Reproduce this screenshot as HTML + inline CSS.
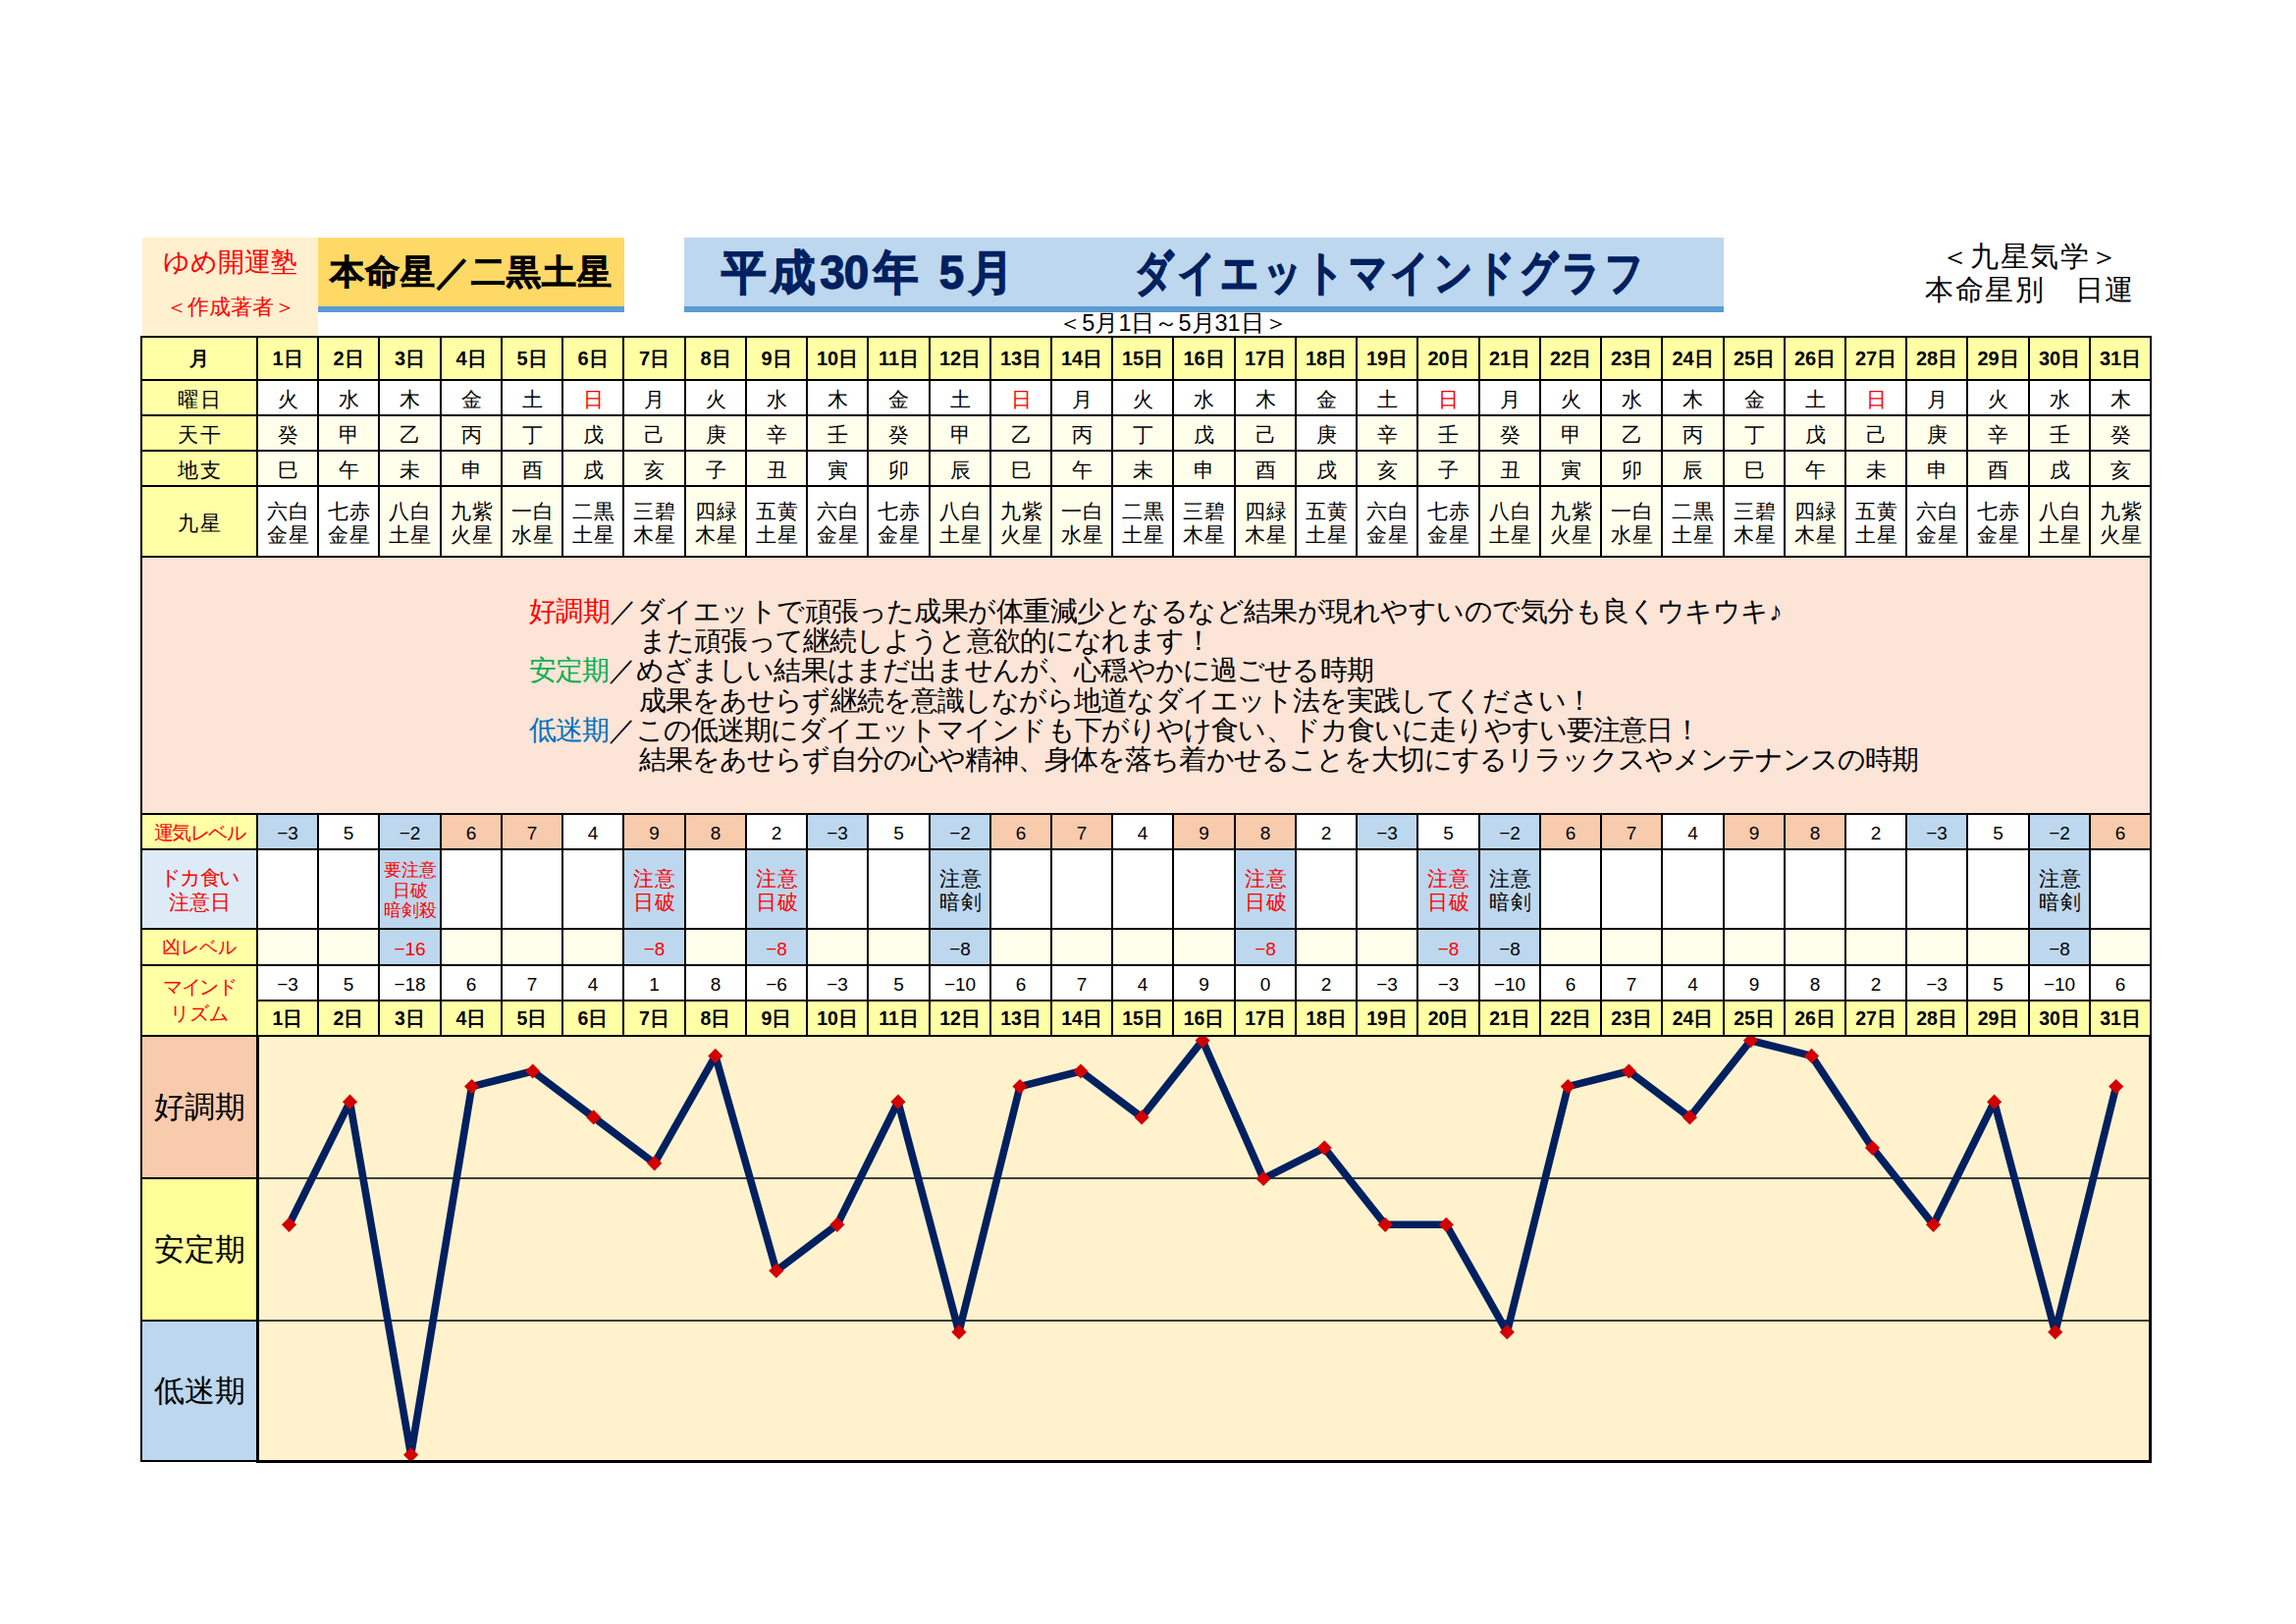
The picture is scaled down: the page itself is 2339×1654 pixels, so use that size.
<!DOCTYPE html>
<html lang="ja"><head><meta charset="utf-8"><title>ダイエットマインドグラフ</title>
<style>
html,body{margin:0;padding:0;background:#fff;}
body{width:2339px;height:1654px;overflow:hidden;font-family:"Liberation Sans", sans-serif;color:#000;}
#page{position:relative;width:2339px;height:1654px;background:#fff;overflow:hidden;}
.c{position:absolute;box-sizing:border-box;border:2px solid #000;display:flex;align-items:center;justify-content:center;text-align:center;white-space:nowrap;overflow:hidden;font-size:20px;line-height:25px;}
.b{font-weight:bold;}
.r{color:#FF0000;}
.k{color:#000;}
.t{position:absolute;white-space:nowrap;}
.j{position:absolute;white-space:nowrap;text-align:justify;text-align-last:justify;transform-origin:0 0;}
.n{padding-top:2px;}
.box{position:absolute;}
</style></head><body><div id="page">

<div class="box" style="left:145px;top:242px;width:179px;height:101px;background:#FFF0D0;"></div>
<div class="t r" style="left:145px;top:249px;width:179px;text-align:center;font-size:27px;line-height:36px;">ゆめ開運塾</div>
<div class="t r" style="left:145px;top:297px;width:179px;text-align:center;font-size:22px;line-height:32px;">＜作成著者＞</div>
<div class="box" style="left:324px;top:242px;width:312px;height:70px;background:#FFD966;"></div>
<div class="box" style="left:324px;top:312px;width:312px;height:6px;background:#5B9BD5;"></div>
<div class="t b" style="left:324px;top:252px;width:312px;text-align:center;font-size:35px;line-height:50px;letter-spacing:1px;-webkit-text-stroke:0.7px #000;">本命星／二黒土星</div>
<div class="box" style="left:697px;top:242px;width:1059px;height:70px;background:#BDD7EE;"></div>
<div class="box" style="left:697px;top:312px;width:1059px;height:6px;background:#5B9BD5;"></div>
<div class="j b" style="left:735px;top:246px;width:312px;font-size:48px;line-height:64px;letter-spacing:-1px;color:#002060;-webkit-text-stroke:1.3px #002060;transform:scaleX(0.95);">平成30年 5月</div>
<div class="j b" style="left:1156px;top:246px;width:640px;font-size:48px;line-height:64px;letter-spacing:-3px;color:#002060;-webkit-text-stroke:1.3px #002060;transform:scaleX(0.806);">ダイエットマインドグラフ</div>
<div class="t" style="left:1943px;top:243.7px;width:250px;text-align:center;font-size:29px;line-height:34.5px;letter-spacing:1.5px;">＜九星気学＞<br>本命星別　日運</div>
<div class="t" style="left:1075px;top:317px;width:240px;text-align:center;font-size:23.5px;line-height:25px;">＜5月1日～5月31日＞</div>
<div class="c b" style="left:143px;top:342px;width:120px;height:46px;background:#FFFFA6;">月</div>
<div class="c n" style="left:143px;top:386px;width:120px;height:38px;background:#FFFFA6;font-size:21px;letter-spacing:2px;padding-left:2px;">曜日</div>
<div class="c n" style="left:143px;top:422px;width:120px;height:38px;background:#FFFFA6;font-size:21px;letter-spacing:2px;padding-left:2px;">天干</div>
<div class="c n" style="left:143px;top:458px;width:120px;height:38px;background:#FFFFA6;font-size:21px;letter-spacing:2px;padding-left:2px;">地支</div>
<div class="c n" style="left:143px;top:494px;width:120px;height:74px;background:#FFFFA6;font-size:21px;letter-spacing:2px;padding-left:2px;">九星</div>
<div class="c b" style="left:261px;top:342px;width:64px;height:46px;background:#FFFFA6;">1日</div>
<div class="c n" style="left:261px;top:386px;width:64px;height:38px;background:#fff;font-size:21px;">火</div>
<div class="c n" style="left:261px;top:422px;width:64px;height:38px;background:#FFFFEC;font-size:21px;">癸</div>
<div class="c n" style="left:261px;top:458px;width:64px;height:38px;background:#FFFFEC;font-size:21px;">巳</div>
<div class="c " style="left:261px;top:494px;width:64px;height:74px;background:#fff;font-size:21px;line-height:24px;padding-top:4px;letter-spacing:1px;padding-left:1px;">六白<br>金星</div>
<div class="c b" style="left:323px;top:342px;width:64px;height:46px;background:#FFFFA6;">2日</div>
<div class="c n" style="left:323px;top:386px;width:64px;height:38px;background:#fff;font-size:21px;">水</div>
<div class="c n" style="left:323px;top:422px;width:64px;height:38px;background:#FFFFEC;font-size:21px;">甲</div>
<div class="c n" style="left:323px;top:458px;width:64px;height:38px;background:#FFFFEC;font-size:21px;">午</div>
<div class="c " style="left:323px;top:494px;width:64px;height:74px;background:#fff;font-size:21px;line-height:24px;padding-top:4px;letter-spacing:1px;padding-left:1px;">七赤<br>金星</div>
<div class="c b" style="left:385px;top:342px;width:65px;height:46px;background:#FFFFA6;">3日</div>
<div class="c n" style="left:385px;top:386px;width:65px;height:38px;background:#fff;font-size:21px;">木</div>
<div class="c n" style="left:385px;top:422px;width:65px;height:38px;background:#FFFFEC;font-size:21px;">乙</div>
<div class="c n" style="left:385px;top:458px;width:65px;height:38px;background:#FFFFEC;font-size:21px;">未</div>
<div class="c " style="left:385px;top:494px;width:65px;height:74px;background:#FFFFEC;font-size:21px;line-height:24px;padding-top:4px;letter-spacing:1px;padding-left:1px;">八白<br>土星</div>
<div class="c b" style="left:448px;top:342px;width:64px;height:46px;background:#FFFFA6;">4日</div>
<div class="c n" style="left:448px;top:386px;width:64px;height:38px;background:#fff;font-size:21px;">金</div>
<div class="c n" style="left:448px;top:422px;width:64px;height:38px;background:#FFFFEC;font-size:21px;">丙</div>
<div class="c n" style="left:448px;top:458px;width:64px;height:38px;background:#FFFFEC;font-size:21px;">申</div>
<div class="c " style="left:448px;top:494px;width:64px;height:74px;background:#FFFFEC;font-size:21px;line-height:24px;padding-top:4px;letter-spacing:1px;padding-left:1px;">九紫<br>火星</div>
<div class="c b" style="left:510px;top:342px;width:64px;height:46px;background:#FFFFA6;">5日</div>
<div class="c n" style="left:510px;top:386px;width:64px;height:38px;background:#fff;font-size:21px;">土</div>
<div class="c n" style="left:510px;top:422px;width:64px;height:38px;background:#FFFFEC;font-size:21px;">丁</div>
<div class="c n" style="left:510px;top:458px;width:64px;height:38px;background:#FFFFEC;font-size:21px;">酉</div>
<div class="c " style="left:510px;top:494px;width:64px;height:74px;background:#FFFFEC;font-size:21px;line-height:24px;padding-top:4px;letter-spacing:1px;padding-left:1px;">一白<br>水星</div>
<div class="c b" style="left:572px;top:342px;width:64px;height:46px;background:#FFFFA6;">6日</div>
<div class="c n r" style="left:572px;top:386px;width:64px;height:38px;background:#fff;font-size:21px;">日</div>
<div class="c n" style="left:572px;top:422px;width:64px;height:38px;background:#FFFFEC;font-size:21px;">戊</div>
<div class="c n" style="left:572px;top:458px;width:64px;height:38px;background:#FFFFEC;font-size:21px;">戌</div>
<div class="c " style="left:572px;top:494px;width:64px;height:74px;background:#fff;font-size:21px;line-height:24px;padding-top:4px;letter-spacing:1px;padding-left:1px;">二黒<br>土星</div>
<div class="c b" style="left:634px;top:342px;width:65px;height:46px;background:#FFFFA6;">7日</div>
<div class="c n" style="left:634px;top:386px;width:65px;height:38px;background:#fff;font-size:21px;">月</div>
<div class="c n" style="left:634px;top:422px;width:65px;height:38px;background:#FFFFEC;font-size:21px;">己</div>
<div class="c n" style="left:634px;top:458px;width:65px;height:38px;background:#FFFFEC;font-size:21px;">亥</div>
<div class="c " style="left:634px;top:494px;width:65px;height:74px;background:#fff;font-size:21px;line-height:24px;padding-top:4px;letter-spacing:1px;padding-left:1px;">三碧<br>木星</div>
<div class="c b" style="left:697px;top:342px;width:64px;height:46px;background:#FFFFA6;">8日</div>
<div class="c n" style="left:697px;top:386px;width:64px;height:38px;background:#fff;font-size:21px;">火</div>
<div class="c n" style="left:697px;top:422px;width:64px;height:38px;background:#FFFFEC;font-size:21px;">庚</div>
<div class="c n" style="left:697px;top:458px;width:64px;height:38px;background:#FFFFEC;font-size:21px;">子</div>
<div class="c " style="left:697px;top:494px;width:64px;height:74px;background:#FFFFEC;font-size:21px;line-height:24px;padding-top:4px;letter-spacing:1px;padding-left:1px;">四緑<br>木星</div>
<div class="c b" style="left:759px;top:342px;width:64px;height:46px;background:#FFFFA6;">9日</div>
<div class="c n" style="left:759px;top:386px;width:64px;height:38px;background:#fff;font-size:21px;">水</div>
<div class="c n" style="left:759px;top:422px;width:64px;height:38px;background:#FFFFEC;font-size:21px;">辛</div>
<div class="c n" style="left:759px;top:458px;width:64px;height:38px;background:#FFFFEC;font-size:21px;">丑</div>
<div class="c " style="left:759px;top:494px;width:64px;height:74px;background:#fff;font-size:21px;line-height:24px;padding-top:4px;letter-spacing:1px;padding-left:1px;">五黄<br>土星</div>
<div class="c b" style="left:821px;top:342px;width:64px;height:46px;background:#FFFFA6;">10日</div>
<div class="c n" style="left:821px;top:386px;width:64px;height:38px;background:#fff;font-size:21px;">木</div>
<div class="c n" style="left:821px;top:422px;width:64px;height:38px;background:#FFFFEC;font-size:21px;">壬</div>
<div class="c n" style="left:821px;top:458px;width:64px;height:38px;background:#fff;font-size:21px;">寅</div>
<div class="c " style="left:821px;top:494px;width:64px;height:74px;background:#fff;font-size:21px;line-height:24px;padding-top:4px;letter-spacing:1px;padding-left:1px;">六白<br>金星</div>
<div class="c b" style="left:883px;top:342px;width:65px;height:46px;background:#FFFFA6;">11日</div>
<div class="c n" style="left:883px;top:386px;width:65px;height:38px;background:#fff;font-size:21px;">金</div>
<div class="c n" style="left:883px;top:422px;width:65px;height:38px;background:#FFFFEC;font-size:21px;">癸</div>
<div class="c n" style="left:883px;top:458px;width:65px;height:38px;background:#FFFFEC;font-size:21px;">卯</div>
<div class="c " style="left:883px;top:494px;width:65px;height:74px;background:#fff;font-size:21px;line-height:24px;padding-top:4px;letter-spacing:1px;padding-left:1px;">七赤<br>金星</div>
<div class="c b" style="left:946px;top:342px;width:64px;height:46px;background:#FFFFA6;">12日</div>
<div class="c n" style="left:946px;top:386px;width:64px;height:38px;background:#fff;font-size:21px;">土</div>
<div class="c n" style="left:946px;top:422px;width:64px;height:38px;background:#FFFFEC;font-size:21px;">甲</div>
<div class="c n" style="left:946px;top:458px;width:64px;height:38px;background:#FFFFEC;font-size:21px;">辰</div>
<div class="c " style="left:946px;top:494px;width:64px;height:74px;background:#FFFFEC;font-size:21px;line-height:24px;padding-top:4px;letter-spacing:1px;padding-left:1px;">八白<br>土星</div>
<div class="c b" style="left:1008px;top:342px;width:64px;height:46px;background:#FFFFA6;">13日</div>
<div class="c n r" style="left:1008px;top:386px;width:64px;height:38px;background:#fff;font-size:21px;">日</div>
<div class="c n" style="left:1008px;top:422px;width:64px;height:38px;background:#FFFFEC;font-size:21px;">乙</div>
<div class="c n" style="left:1008px;top:458px;width:64px;height:38px;background:#FFFFEC;font-size:21px;">巳</div>
<div class="c " style="left:1008px;top:494px;width:64px;height:74px;background:#FFFFEC;font-size:21px;line-height:24px;padding-top:4px;letter-spacing:1px;padding-left:1px;">九紫<br>火星</div>
<div class="c b" style="left:1070px;top:342px;width:64px;height:46px;background:#FFFFA6;">14日</div>
<div class="c n" style="left:1070px;top:386px;width:64px;height:38px;background:#fff;font-size:21px;">月</div>
<div class="c n" style="left:1070px;top:422px;width:64px;height:38px;background:#FFFFEC;font-size:21px;">丙</div>
<div class="c n" style="left:1070px;top:458px;width:64px;height:38px;background:#FFFFEC;font-size:21px;">午</div>
<div class="c " style="left:1070px;top:494px;width:64px;height:74px;background:#FFFFEC;font-size:21px;line-height:24px;padding-top:4px;letter-spacing:1px;padding-left:1px;">一白<br>水星</div>
<div class="c b" style="left:1132px;top:342px;width:64px;height:46px;background:#FFFFA6;">15日</div>
<div class="c n" style="left:1132px;top:386px;width:64px;height:38px;background:#fff;font-size:21px;">火</div>
<div class="c n" style="left:1132px;top:422px;width:64px;height:38px;background:#FFFFEC;font-size:21px;">丁</div>
<div class="c n" style="left:1132px;top:458px;width:64px;height:38px;background:#FFFFEC;font-size:21px;">未</div>
<div class="c " style="left:1132px;top:494px;width:64px;height:74px;background:#fff;font-size:21px;line-height:24px;padding-top:4px;letter-spacing:1px;padding-left:1px;">二黒<br>土星</div>
<div class="c b" style="left:1194px;top:342px;width:65px;height:46px;background:#FFFFA6;">16日</div>
<div class="c n" style="left:1194px;top:386px;width:65px;height:38px;background:#fff;font-size:21px;">水</div>
<div class="c n" style="left:1194px;top:422px;width:65px;height:38px;background:#FFFFEC;font-size:21px;">戊</div>
<div class="c n" style="left:1194px;top:458px;width:65px;height:38px;background:#FFFFEC;font-size:21px;">申</div>
<div class="c " style="left:1194px;top:494px;width:65px;height:74px;background:#fff;font-size:21px;line-height:24px;padding-top:4px;letter-spacing:1px;padding-left:1px;">三碧<br>木星</div>
<div class="c b" style="left:1257px;top:342px;width:64px;height:46px;background:#FFFFA6;">17日</div>
<div class="c n" style="left:1257px;top:386px;width:64px;height:38px;background:#fff;font-size:21px;">木</div>
<div class="c n" style="left:1257px;top:422px;width:64px;height:38px;background:#FFFFEC;font-size:21px;">己</div>
<div class="c n" style="left:1257px;top:458px;width:64px;height:38px;background:#FFFFEC;font-size:21px;">酉</div>
<div class="c " style="left:1257px;top:494px;width:64px;height:74px;background:#FFFFEC;font-size:21px;line-height:24px;padding-top:4px;letter-spacing:1px;padding-left:1px;">四緑<br>木星</div>
<div class="c b" style="left:1319px;top:342px;width:64px;height:46px;background:#FFFFA6;">18日</div>
<div class="c n" style="left:1319px;top:386px;width:64px;height:38px;background:#fff;font-size:21px;">金</div>
<div class="c n" style="left:1319px;top:422px;width:64px;height:38px;background:#fff;font-size:21px;">庚</div>
<div class="c n" style="left:1319px;top:458px;width:64px;height:38px;background:#FFFFEC;font-size:21px;">戌</div>
<div class="c " style="left:1319px;top:494px;width:64px;height:74px;background:#fff;font-size:21px;line-height:24px;padding-top:4px;letter-spacing:1px;padding-left:1px;">五黄<br>土星</div>
<div class="c b" style="left:1381px;top:342px;width:64px;height:46px;background:#FFFFA6;">19日</div>
<div class="c n" style="left:1381px;top:386px;width:64px;height:38px;background:#fff;font-size:21px;">土</div>
<div class="c n" style="left:1381px;top:422px;width:64px;height:38px;background:#FFFFEC;font-size:21px;">辛</div>
<div class="c n" style="left:1381px;top:458px;width:64px;height:38px;background:#FFFFEC;font-size:21px;">亥</div>
<div class="c " style="left:1381px;top:494px;width:64px;height:74px;background:#fff;font-size:21px;line-height:24px;padding-top:4px;letter-spacing:1px;padding-left:1px;">六白<br>金星</div>
<div class="c b" style="left:1443px;top:342px;width:65px;height:46px;background:#FFFFA6;">20日</div>
<div class="c n r" style="left:1443px;top:386px;width:65px;height:38px;background:#fff;font-size:21px;">日</div>
<div class="c n" style="left:1443px;top:422px;width:65px;height:38px;background:#FFFFEC;font-size:21px;">壬</div>
<div class="c n" style="left:1443px;top:458px;width:65px;height:38px;background:#FFFFEC;font-size:21px;">子</div>
<div class="c " style="left:1443px;top:494px;width:65px;height:74px;background:#fff;font-size:21px;line-height:24px;padding-top:4px;letter-spacing:1px;padding-left:1px;">七赤<br>金星</div>
<div class="c b" style="left:1506px;top:342px;width:64px;height:46px;background:#FFFFA6;">21日</div>
<div class="c n" style="left:1506px;top:386px;width:64px;height:38px;background:#fff;font-size:21px;">月</div>
<div class="c n" style="left:1506px;top:422px;width:64px;height:38px;background:#FFFFEC;font-size:21px;">癸</div>
<div class="c n" style="left:1506px;top:458px;width:64px;height:38px;background:#FFFFEC;font-size:21px;">丑</div>
<div class="c " style="left:1506px;top:494px;width:64px;height:74px;background:#FFFFEC;font-size:21px;line-height:24px;padding-top:4px;letter-spacing:1px;padding-left:1px;">八白<br>土星</div>
<div class="c b" style="left:1568px;top:342px;width:64px;height:46px;background:#FFFFA6;">22日</div>
<div class="c n" style="left:1568px;top:386px;width:64px;height:38px;background:#fff;font-size:21px;">火</div>
<div class="c n" style="left:1568px;top:422px;width:64px;height:38px;background:#FFFFEC;font-size:21px;">甲</div>
<div class="c n" style="left:1568px;top:458px;width:64px;height:38px;background:#FFFFEC;font-size:21px;">寅</div>
<div class="c " style="left:1568px;top:494px;width:64px;height:74px;background:#FFFFEC;font-size:21px;line-height:24px;padding-top:4px;letter-spacing:1px;padding-left:1px;">九紫<br>火星</div>
<div class="c b" style="left:1630px;top:342px;width:64px;height:46px;background:#FFFFA6;">23日</div>
<div class="c n" style="left:1630px;top:386px;width:64px;height:38px;background:#fff;font-size:21px;">水</div>
<div class="c n" style="left:1630px;top:422px;width:64px;height:38px;background:#FFFFEC;font-size:21px;">乙</div>
<div class="c n" style="left:1630px;top:458px;width:64px;height:38px;background:#FFFFEC;font-size:21px;">卯</div>
<div class="c " style="left:1630px;top:494px;width:64px;height:74px;background:#FFFFEC;font-size:21px;line-height:24px;padding-top:4px;letter-spacing:1px;padding-left:1px;">一白<br>水星</div>
<div class="c b" style="left:1692px;top:342px;width:65px;height:46px;background:#FFFFA6;">24日</div>
<div class="c n" style="left:1692px;top:386px;width:65px;height:38px;background:#fff;font-size:21px;">木</div>
<div class="c n" style="left:1692px;top:422px;width:65px;height:38px;background:#FFFFEC;font-size:21px;">丙</div>
<div class="c n" style="left:1692px;top:458px;width:65px;height:38px;background:#FFFFEC;font-size:21px;">辰</div>
<div class="c " style="left:1692px;top:494px;width:65px;height:74px;background:#fff;font-size:21px;line-height:24px;padding-top:4px;letter-spacing:1px;padding-left:1px;">二黒<br>土星</div>
<div class="c b" style="left:1755px;top:342px;width:64px;height:46px;background:#FFFFA6;">25日</div>
<div class="c n" style="left:1755px;top:386px;width:64px;height:38px;background:#fff;font-size:21px;">金</div>
<div class="c n" style="left:1755px;top:422px;width:64px;height:38px;background:#FFFFEC;font-size:21px;">丁</div>
<div class="c n" style="left:1755px;top:458px;width:64px;height:38px;background:#FFFFEC;font-size:21px;">巳</div>
<div class="c " style="left:1755px;top:494px;width:64px;height:74px;background:#fff;font-size:21px;line-height:24px;padding-top:4px;letter-spacing:1px;padding-left:1px;">三碧<br>木星</div>
<div class="c b" style="left:1817px;top:342px;width:64px;height:46px;background:#FFFFA6;">26日</div>
<div class="c n" style="left:1817px;top:386px;width:64px;height:38px;background:#fff;font-size:21px;">土</div>
<div class="c n" style="left:1817px;top:422px;width:64px;height:38px;background:#FFFFEC;font-size:21px;">戊</div>
<div class="c n" style="left:1817px;top:458px;width:64px;height:38px;background:#FFFFEC;font-size:21px;">午</div>
<div class="c " style="left:1817px;top:494px;width:64px;height:74px;background:#FFFFEC;font-size:21px;line-height:24px;padding-top:4px;letter-spacing:1px;padding-left:1px;">四緑<br>木星</div>
<div class="c b" style="left:1879px;top:342px;width:64px;height:46px;background:#FFFFA6;">27日</div>
<div class="c n r" style="left:1879px;top:386px;width:64px;height:38px;background:#fff;font-size:21px;">日</div>
<div class="c n" style="left:1879px;top:422px;width:64px;height:38px;background:#FFFFEC;font-size:21px;">己</div>
<div class="c n" style="left:1879px;top:458px;width:64px;height:38px;background:#FFFFEC;font-size:21px;">未</div>
<div class="c " style="left:1879px;top:494px;width:64px;height:74px;background:#fff;font-size:21px;line-height:24px;padding-top:4px;letter-spacing:1px;padding-left:1px;">五黄<br>土星</div>
<div class="c b" style="left:1941px;top:342px;width:64px;height:46px;background:#FFFFA6;">28日</div>
<div class="c n" style="left:1941px;top:386px;width:64px;height:38px;background:#fff;font-size:21px;">月</div>
<div class="c n" style="left:1941px;top:422px;width:64px;height:38px;background:#FFFFEC;font-size:21px;">庚</div>
<div class="c n" style="left:1941px;top:458px;width:64px;height:38px;background:#FFFFEC;font-size:21px;">申</div>
<div class="c " style="left:1941px;top:494px;width:64px;height:74px;background:#fff;font-size:21px;line-height:24px;padding-top:4px;letter-spacing:1px;padding-left:1px;">六白<br>金星</div>
<div class="c b" style="left:2003px;top:342px;width:65px;height:46px;background:#FFFFA6;">29日</div>
<div class="c n" style="left:2003px;top:386px;width:65px;height:38px;background:#fff;font-size:21px;">火</div>
<div class="c n" style="left:2003px;top:422px;width:65px;height:38px;background:#FFFFEC;font-size:21px;">辛</div>
<div class="c n" style="left:2003px;top:458px;width:65px;height:38px;background:#FFFFEC;font-size:21px;">酉</div>
<div class="c " style="left:2003px;top:494px;width:65px;height:74px;background:#fff;font-size:21px;line-height:24px;padding-top:4px;letter-spacing:1px;padding-left:1px;">七赤<br>金星</div>
<div class="c b" style="left:2066px;top:342px;width:64px;height:46px;background:#FFFFA6;">30日</div>
<div class="c n" style="left:2066px;top:386px;width:64px;height:38px;background:#fff;font-size:21px;">水</div>
<div class="c n" style="left:2066px;top:422px;width:64px;height:38px;background:#FFFFEC;font-size:21px;">壬</div>
<div class="c n" style="left:2066px;top:458px;width:64px;height:38px;background:#FFFFEC;font-size:21px;">戌</div>
<div class="c " style="left:2066px;top:494px;width:64px;height:74px;background:#FFFFEC;font-size:21px;line-height:24px;padding-top:4px;letter-spacing:1px;padding-left:1px;">八白<br>土星</div>
<div class="c b" style="left:2128px;top:342px;width:64px;height:46px;background:#FFFFA6;">31日</div>
<div class="c n" style="left:2128px;top:386px;width:64px;height:38px;background:#fff;font-size:21px;">木</div>
<div class="c n" style="left:2128px;top:422px;width:64px;height:38px;background:#FFFFEC;font-size:21px;">癸</div>
<div class="c n" style="left:2128px;top:458px;width:64px;height:38px;background:#FFFFEC;font-size:21px;">亥</div>
<div class="c " style="left:2128px;top:494px;width:64px;height:74px;background:#FFFFEC;font-size:21px;line-height:24px;padding-top:4px;letter-spacing:1px;padding-left:1px;">九紫<br>火星</div>
<div class="c " style="left:143px;top:566px;width:2049px;height:264px;background:#FCE4D6;"></div>
<div class="j" style="left:539px;top:606.6px;width:1275.1px;font-size:27.7px;line-height:31px;letter-spacing:-1.5px;"><span style="color:#FF0000">好調期</span>／ダイエットで頑張った成果が体重減少となるなど結果が現れやすいので気分も良くウキウキ♪</div>
<div class="j" style="left:651px;top:637.0px;width:582.1px;font-size:27.7px;line-height:31px;letter-spacing:-1.5px;">また頑張って継続しようと意欲的になれます！</div>
<div class="j" style="left:539px;top:667.3px;width:859.3px;font-size:27.7px;line-height:31px;letter-spacing:-1.5px;"><span style="color:#00B050">安定期</span>／めざましい結果はまだ出ませんが、心穏やかに過ごせる時期</div>
<div class="j" style="left:651px;top:697.7px;width:970.2px;font-size:27.7px;line-height:31px;letter-spacing:-1.5px;">成果をあせらず継続を意識しながら地道なダイエット法を実践してください！</div>
<div class="j" style="left:539px;top:728.0px;width:1192.0px;font-size:27.7px;line-height:31px;letter-spacing:-1.5px;"><span style="color:#0070C0">低迷期</span>／この低迷期にダイエットマインドも下がりやけ食い、ドカ食いに走りやすい要注意日！</div>
<div class="j" style="left:651px;top:758.4px;width:1302.8px;font-size:27.7px;line-height:31px;letter-spacing:-1.5px;">結果をあせらず自分の心や精神、身体を落ち着かせることを大切にするリラックスやメンテナンスの時期</div>
<div class="c r n" style="left:143px;top:828px;width:120px;height:38px;background:#FFFFA6;font-size:19.5px;letter-spacing:-1.6px;">運気レベル</div>
<div class="c r" style="left:143px;top:864px;width:120px;height:83px;background:#DDEBF7;font-size:20.5px;line-height:25px;"><span><span style="letter-spacing:-1.5px">ドカ食い</span><br>注意日</span></div>
<div class="c r" style="left:143px;top:945px;width:120px;height:39px;background:#FFFFA6;font-size:19px;">凶レベル</div>
<div class="c r" style="left:143px;top:982px;width:120px;height:74px;background:#FFFFA6;font-size:20px;line-height:27px;"><span><span style="letter-spacing:-1.5px">マインド</span><br>リズム</span></div>
<div class="c n" style="left:261px;top:828px;width:64px;height:38px;background:#BDD7EE;font-size:19px;padding-top:3px;">−3</div>
<div class="c " style="left:261px;top:864px;width:64px;height:83px;background:#fff;"></div>
<div class="c " style="left:261px;top:945px;width:64px;height:39px;background:#FFFFEC;"></div>
<div class="c n" style="left:261px;top:982px;width:64px;height:38px;background:#fff;font-size:19px;">−3</div>
<div class="c b" style="left:261px;top:1018px;width:64px;height:38px;background:#FFFFA6;font-size:19.5px;">1日</div>
<div class="c n" style="left:323px;top:828px;width:64px;height:38px;background:#fff;font-size:19px;padding-top:3px;">5</div>
<div class="c " style="left:323px;top:864px;width:64px;height:83px;background:#fff;"></div>
<div class="c " style="left:323px;top:945px;width:64px;height:39px;background:#FFFFEC;"></div>
<div class="c n" style="left:323px;top:982px;width:64px;height:38px;background:#fff;font-size:19px;">5</div>
<div class="c b" style="left:323px;top:1018px;width:64px;height:38px;background:#FFFFA6;font-size:19.5px;">2日</div>
<div class="c n" style="left:385px;top:828px;width:65px;height:38px;background:#BDD7EE;font-size:19px;padding-top:3px;">−2</div>
<div class="c r" style="left:385px;top:864px;width:65px;height:83px;background:#BDD7EE;font-size:17.5px;line-height:20.5px;padding-top:3px;">要注意<br>日破<br>暗剣殺</div>
<div class="c r" style="left:385px;top:945px;width:65px;height:39px;background:#BDD7EE;font-size:19px;padding-top:3px;">−16</div>
<div class="c n" style="left:385px;top:982px;width:65px;height:38px;background:#fff;font-size:19px;">−18</div>
<div class="c b" style="left:385px;top:1018px;width:65px;height:38px;background:#FFFFA6;font-size:19.5px;">3日</div>
<div class="c n" style="left:448px;top:828px;width:64px;height:38px;background:#F8CBAD;font-size:19px;padding-top:3px;">6</div>
<div class="c " style="left:448px;top:864px;width:64px;height:83px;background:#fff;"></div>
<div class="c " style="left:448px;top:945px;width:64px;height:39px;background:#FFFFEC;"></div>
<div class="c n" style="left:448px;top:982px;width:64px;height:38px;background:#fff;font-size:19px;">6</div>
<div class="c b" style="left:448px;top:1018px;width:64px;height:38px;background:#FFFFA6;font-size:19.5px;">4日</div>
<div class="c n" style="left:510px;top:828px;width:64px;height:38px;background:#F8CBAD;font-size:19px;padding-top:3px;">7</div>
<div class="c " style="left:510px;top:864px;width:64px;height:83px;background:#fff;"></div>
<div class="c " style="left:510px;top:945px;width:64px;height:39px;background:#FFFFEC;"></div>
<div class="c n" style="left:510px;top:982px;width:64px;height:38px;background:#fff;font-size:19px;">7</div>
<div class="c b" style="left:510px;top:1018px;width:64px;height:38px;background:#FFFFA6;font-size:19.5px;">5日</div>
<div class="c n" style="left:572px;top:828px;width:64px;height:38px;background:#fff;font-size:19px;padding-top:3px;">4</div>
<div class="c " style="left:572px;top:864px;width:64px;height:83px;background:#fff;"></div>
<div class="c " style="left:572px;top:945px;width:64px;height:39px;background:#FFFFEC;"></div>
<div class="c n" style="left:572px;top:982px;width:64px;height:38px;background:#fff;font-size:19px;">4</div>
<div class="c b" style="left:572px;top:1018px;width:64px;height:38px;background:#FFFFA6;font-size:19.5px;">6日</div>
<div class="c n" style="left:634px;top:828px;width:65px;height:38px;background:#F8CBAD;font-size:19px;padding-top:3px;">9</div>
<div class="c r" style="left:634px;top:864px;width:65px;height:83px;background:#BDD7EE;font-size:21px;line-height:24px;padding-top:3px;letter-spacing:1px;padding-left:1px;">注意<br>日破</div>
<div class="c r" style="left:634px;top:945px;width:65px;height:39px;background:#BDD7EE;font-size:19px;padding-top:3px;">−8</div>
<div class="c n" style="left:634px;top:982px;width:65px;height:38px;background:#fff;font-size:19px;">1</div>
<div class="c b" style="left:634px;top:1018px;width:65px;height:38px;background:#FFFFA6;font-size:19.5px;">7日</div>
<div class="c n" style="left:697px;top:828px;width:64px;height:38px;background:#F8CBAD;font-size:19px;padding-top:3px;">8</div>
<div class="c " style="left:697px;top:864px;width:64px;height:83px;background:#fff;"></div>
<div class="c " style="left:697px;top:945px;width:64px;height:39px;background:#FFFFEC;"></div>
<div class="c n" style="left:697px;top:982px;width:64px;height:38px;background:#fff;font-size:19px;">8</div>
<div class="c b" style="left:697px;top:1018px;width:64px;height:38px;background:#FFFFA6;font-size:19.5px;">8日</div>
<div class="c n" style="left:759px;top:828px;width:64px;height:38px;background:#fff;font-size:19px;padding-top:3px;">2</div>
<div class="c r" style="left:759px;top:864px;width:64px;height:83px;background:#BDD7EE;font-size:21px;line-height:24px;padding-top:3px;letter-spacing:1px;padding-left:1px;">注意<br>日破</div>
<div class="c r" style="left:759px;top:945px;width:64px;height:39px;background:#BDD7EE;font-size:19px;padding-top:3px;">−8</div>
<div class="c n" style="left:759px;top:982px;width:64px;height:38px;background:#fff;font-size:19px;">−6</div>
<div class="c b" style="left:759px;top:1018px;width:64px;height:38px;background:#FFFFA6;font-size:19.5px;">9日</div>
<div class="c n" style="left:821px;top:828px;width:64px;height:38px;background:#BDD7EE;font-size:19px;padding-top:3px;">−3</div>
<div class="c " style="left:821px;top:864px;width:64px;height:83px;background:#fff;"></div>
<div class="c " style="left:821px;top:945px;width:64px;height:39px;background:#FFFFEC;"></div>
<div class="c n" style="left:821px;top:982px;width:64px;height:38px;background:#fff;font-size:19px;">−3</div>
<div class="c b" style="left:821px;top:1018px;width:64px;height:38px;background:#FFFFA6;font-size:19.5px;">10日</div>
<div class="c n" style="left:883px;top:828px;width:65px;height:38px;background:#fff;font-size:19px;padding-top:3px;">5</div>
<div class="c " style="left:883px;top:864px;width:65px;height:83px;background:#fff;"></div>
<div class="c " style="left:883px;top:945px;width:65px;height:39px;background:#FFFFEC;"></div>
<div class="c n" style="left:883px;top:982px;width:65px;height:38px;background:#fff;font-size:19px;">5</div>
<div class="c b" style="left:883px;top:1018px;width:65px;height:38px;background:#FFFFA6;font-size:19.5px;">11日</div>
<div class="c n" style="left:946px;top:828px;width:64px;height:38px;background:#BDD7EE;font-size:19px;padding-top:3px;">−2</div>
<div class="c k" style="left:946px;top:864px;width:64px;height:83px;background:#BDD7EE;font-size:21px;line-height:24px;padding-top:3px;letter-spacing:1px;padding-left:1px;">注意<br>暗剣</div>
<div class="c k" style="left:946px;top:945px;width:64px;height:39px;background:#BDD7EE;font-size:19px;padding-top:3px;">−8</div>
<div class="c n" style="left:946px;top:982px;width:64px;height:38px;background:#fff;font-size:19px;">−10</div>
<div class="c b" style="left:946px;top:1018px;width:64px;height:38px;background:#FFFFA6;font-size:19.5px;">12日</div>
<div class="c n" style="left:1008px;top:828px;width:64px;height:38px;background:#F8CBAD;font-size:19px;padding-top:3px;">6</div>
<div class="c " style="left:1008px;top:864px;width:64px;height:83px;background:#fff;"></div>
<div class="c " style="left:1008px;top:945px;width:64px;height:39px;background:#FFFFEC;"></div>
<div class="c n" style="left:1008px;top:982px;width:64px;height:38px;background:#fff;font-size:19px;">6</div>
<div class="c b" style="left:1008px;top:1018px;width:64px;height:38px;background:#FFFFA6;font-size:19.5px;">13日</div>
<div class="c n" style="left:1070px;top:828px;width:64px;height:38px;background:#F8CBAD;font-size:19px;padding-top:3px;">7</div>
<div class="c " style="left:1070px;top:864px;width:64px;height:83px;background:#fff;"></div>
<div class="c " style="left:1070px;top:945px;width:64px;height:39px;background:#FFFFEC;"></div>
<div class="c n" style="left:1070px;top:982px;width:64px;height:38px;background:#fff;font-size:19px;">7</div>
<div class="c b" style="left:1070px;top:1018px;width:64px;height:38px;background:#FFFFA6;font-size:19.5px;">14日</div>
<div class="c n" style="left:1132px;top:828px;width:64px;height:38px;background:#fff;font-size:19px;padding-top:3px;">4</div>
<div class="c " style="left:1132px;top:864px;width:64px;height:83px;background:#fff;"></div>
<div class="c " style="left:1132px;top:945px;width:64px;height:39px;background:#FFFFEC;"></div>
<div class="c n" style="left:1132px;top:982px;width:64px;height:38px;background:#fff;font-size:19px;">4</div>
<div class="c b" style="left:1132px;top:1018px;width:64px;height:38px;background:#FFFFA6;font-size:19.5px;">15日</div>
<div class="c n" style="left:1194px;top:828px;width:65px;height:38px;background:#F8CBAD;font-size:19px;padding-top:3px;">9</div>
<div class="c " style="left:1194px;top:864px;width:65px;height:83px;background:#fff;"></div>
<div class="c " style="left:1194px;top:945px;width:65px;height:39px;background:#FFFFEC;"></div>
<div class="c n" style="left:1194px;top:982px;width:65px;height:38px;background:#fff;font-size:19px;">9</div>
<div class="c b" style="left:1194px;top:1018px;width:65px;height:38px;background:#FFFFA6;font-size:19.5px;">16日</div>
<div class="c n" style="left:1257px;top:828px;width:64px;height:38px;background:#F8CBAD;font-size:19px;padding-top:3px;">8</div>
<div class="c r" style="left:1257px;top:864px;width:64px;height:83px;background:#BDD7EE;font-size:21px;line-height:24px;padding-top:3px;letter-spacing:1px;padding-left:1px;">注意<br>日破</div>
<div class="c r" style="left:1257px;top:945px;width:64px;height:39px;background:#BDD7EE;font-size:19px;padding-top:3px;">−8</div>
<div class="c n" style="left:1257px;top:982px;width:64px;height:38px;background:#fff;font-size:19px;">0</div>
<div class="c b" style="left:1257px;top:1018px;width:64px;height:38px;background:#FFFFA6;font-size:19.5px;">17日</div>
<div class="c n" style="left:1319px;top:828px;width:64px;height:38px;background:#fff;font-size:19px;padding-top:3px;">2</div>
<div class="c " style="left:1319px;top:864px;width:64px;height:83px;background:#fff;"></div>
<div class="c " style="left:1319px;top:945px;width:64px;height:39px;background:#FFFFEC;"></div>
<div class="c n" style="left:1319px;top:982px;width:64px;height:38px;background:#fff;font-size:19px;">2</div>
<div class="c b" style="left:1319px;top:1018px;width:64px;height:38px;background:#FFFFA6;font-size:19.5px;">18日</div>
<div class="c n" style="left:1381px;top:828px;width:64px;height:38px;background:#BDD7EE;font-size:19px;padding-top:3px;">−3</div>
<div class="c " style="left:1381px;top:864px;width:64px;height:83px;background:#fff;"></div>
<div class="c " style="left:1381px;top:945px;width:64px;height:39px;background:#FFFFEC;"></div>
<div class="c n" style="left:1381px;top:982px;width:64px;height:38px;background:#fff;font-size:19px;">−3</div>
<div class="c b" style="left:1381px;top:1018px;width:64px;height:38px;background:#FFFFA6;font-size:19.5px;">19日</div>
<div class="c n" style="left:1443px;top:828px;width:65px;height:38px;background:#fff;font-size:19px;padding-top:3px;">5</div>
<div class="c r" style="left:1443px;top:864px;width:65px;height:83px;background:#BDD7EE;font-size:21px;line-height:24px;padding-top:3px;letter-spacing:1px;padding-left:1px;">注意<br>日破</div>
<div class="c r" style="left:1443px;top:945px;width:65px;height:39px;background:#BDD7EE;font-size:19px;padding-top:3px;">−8</div>
<div class="c n" style="left:1443px;top:982px;width:65px;height:38px;background:#fff;font-size:19px;">−3</div>
<div class="c b" style="left:1443px;top:1018px;width:65px;height:38px;background:#FFFFA6;font-size:19.5px;">20日</div>
<div class="c n" style="left:1506px;top:828px;width:64px;height:38px;background:#BDD7EE;font-size:19px;padding-top:3px;">−2</div>
<div class="c k" style="left:1506px;top:864px;width:64px;height:83px;background:#BDD7EE;font-size:21px;line-height:24px;padding-top:3px;letter-spacing:1px;padding-left:1px;">注意<br>暗剣</div>
<div class="c k" style="left:1506px;top:945px;width:64px;height:39px;background:#BDD7EE;font-size:19px;padding-top:3px;">−8</div>
<div class="c n" style="left:1506px;top:982px;width:64px;height:38px;background:#fff;font-size:19px;">−10</div>
<div class="c b" style="left:1506px;top:1018px;width:64px;height:38px;background:#FFFFA6;font-size:19.5px;">21日</div>
<div class="c n" style="left:1568px;top:828px;width:64px;height:38px;background:#F8CBAD;font-size:19px;padding-top:3px;">6</div>
<div class="c " style="left:1568px;top:864px;width:64px;height:83px;background:#fff;"></div>
<div class="c " style="left:1568px;top:945px;width:64px;height:39px;background:#FFFFEC;"></div>
<div class="c n" style="left:1568px;top:982px;width:64px;height:38px;background:#fff;font-size:19px;">6</div>
<div class="c b" style="left:1568px;top:1018px;width:64px;height:38px;background:#FFFFA6;font-size:19.5px;">22日</div>
<div class="c n" style="left:1630px;top:828px;width:64px;height:38px;background:#F8CBAD;font-size:19px;padding-top:3px;">7</div>
<div class="c " style="left:1630px;top:864px;width:64px;height:83px;background:#fff;"></div>
<div class="c " style="left:1630px;top:945px;width:64px;height:39px;background:#FFFFEC;"></div>
<div class="c n" style="left:1630px;top:982px;width:64px;height:38px;background:#fff;font-size:19px;">7</div>
<div class="c b" style="left:1630px;top:1018px;width:64px;height:38px;background:#FFFFA6;font-size:19.5px;">23日</div>
<div class="c n" style="left:1692px;top:828px;width:65px;height:38px;background:#fff;font-size:19px;padding-top:3px;">4</div>
<div class="c " style="left:1692px;top:864px;width:65px;height:83px;background:#fff;"></div>
<div class="c " style="left:1692px;top:945px;width:65px;height:39px;background:#FFFFEC;"></div>
<div class="c n" style="left:1692px;top:982px;width:65px;height:38px;background:#fff;font-size:19px;">4</div>
<div class="c b" style="left:1692px;top:1018px;width:65px;height:38px;background:#FFFFA6;font-size:19.5px;">24日</div>
<div class="c n" style="left:1755px;top:828px;width:64px;height:38px;background:#F8CBAD;font-size:19px;padding-top:3px;">9</div>
<div class="c " style="left:1755px;top:864px;width:64px;height:83px;background:#fff;"></div>
<div class="c " style="left:1755px;top:945px;width:64px;height:39px;background:#FFFFEC;"></div>
<div class="c n" style="left:1755px;top:982px;width:64px;height:38px;background:#fff;font-size:19px;">9</div>
<div class="c b" style="left:1755px;top:1018px;width:64px;height:38px;background:#FFFFA6;font-size:19.5px;">25日</div>
<div class="c n" style="left:1817px;top:828px;width:64px;height:38px;background:#F8CBAD;font-size:19px;padding-top:3px;">8</div>
<div class="c " style="left:1817px;top:864px;width:64px;height:83px;background:#fff;"></div>
<div class="c " style="left:1817px;top:945px;width:64px;height:39px;background:#FFFFEC;"></div>
<div class="c n" style="left:1817px;top:982px;width:64px;height:38px;background:#fff;font-size:19px;">8</div>
<div class="c b" style="left:1817px;top:1018px;width:64px;height:38px;background:#FFFFA6;font-size:19.5px;">26日</div>
<div class="c n" style="left:1879px;top:828px;width:64px;height:38px;background:#fff;font-size:19px;padding-top:3px;">2</div>
<div class="c " style="left:1879px;top:864px;width:64px;height:83px;background:#fff;"></div>
<div class="c " style="left:1879px;top:945px;width:64px;height:39px;background:#FFFFEC;"></div>
<div class="c n" style="left:1879px;top:982px;width:64px;height:38px;background:#fff;font-size:19px;">2</div>
<div class="c b" style="left:1879px;top:1018px;width:64px;height:38px;background:#FFFFA6;font-size:19.5px;">27日</div>
<div class="c n" style="left:1941px;top:828px;width:64px;height:38px;background:#BDD7EE;font-size:19px;padding-top:3px;">−3</div>
<div class="c " style="left:1941px;top:864px;width:64px;height:83px;background:#fff;"></div>
<div class="c " style="left:1941px;top:945px;width:64px;height:39px;background:#FFFFEC;"></div>
<div class="c n" style="left:1941px;top:982px;width:64px;height:38px;background:#fff;font-size:19px;">−3</div>
<div class="c b" style="left:1941px;top:1018px;width:64px;height:38px;background:#FFFFA6;font-size:19.5px;">28日</div>
<div class="c n" style="left:2003px;top:828px;width:65px;height:38px;background:#fff;font-size:19px;padding-top:3px;">5</div>
<div class="c " style="left:2003px;top:864px;width:65px;height:83px;background:#fff;"></div>
<div class="c " style="left:2003px;top:945px;width:65px;height:39px;background:#FFFFEC;"></div>
<div class="c n" style="left:2003px;top:982px;width:65px;height:38px;background:#fff;font-size:19px;">5</div>
<div class="c b" style="left:2003px;top:1018px;width:65px;height:38px;background:#FFFFA6;font-size:19.5px;">29日</div>
<div class="c n" style="left:2066px;top:828px;width:64px;height:38px;background:#BDD7EE;font-size:19px;padding-top:3px;">−2</div>
<div class="c k" style="left:2066px;top:864px;width:64px;height:83px;background:#BDD7EE;font-size:21px;line-height:24px;padding-top:3px;letter-spacing:1px;padding-left:1px;">注意<br>暗剣</div>
<div class="c k" style="left:2066px;top:945px;width:64px;height:39px;background:#BDD7EE;font-size:19px;padding-top:3px;">−8</div>
<div class="c n" style="left:2066px;top:982px;width:64px;height:38px;background:#fff;font-size:19px;">−10</div>
<div class="c b" style="left:2066px;top:1018px;width:64px;height:38px;background:#FFFFA6;font-size:19.5px;">30日</div>
<div class="c n" style="left:2128px;top:828px;width:64px;height:38px;background:#F8CBAD;font-size:19px;padding-top:3px;">6</div>
<div class="c " style="left:2128px;top:864px;width:64px;height:83px;background:#fff;"></div>
<div class="c " style="left:2128px;top:945px;width:64px;height:39px;background:#FFFFEC;"></div>
<div class="c n" style="left:2128px;top:982px;width:64px;height:38px;background:#fff;font-size:19px;">6</div>
<div class="c b" style="left:2128px;top:1018px;width:64px;height:38px;background:#FFFFA6;font-size:19.5px;">31日</div>
<div class="c" style="left:261px;top:1054px;width:1931px;height:436px;background:#FFF2CC;border-width:2px 3px 3px 3px;"></div>
<div class="c " style="left:143px;top:1054px;width:120px;height:147px;background:#F8CBAD;font-size:31px;">好調期</div>
<div class="c " style="left:143px;top:1199px;width:120px;height:147px;background:#FFFF99;font-size:31px;">安定期</div>
<div class="c " style="left:143px;top:1344px;width:120px;height:145px;background:#BDD7EE;font-size:31px;">低迷期</div>
<svg class="box" style="left:264px;top:1056px;overflow:hidden;" width="1925" height="431" viewBox="0 0 1925 431">
<line x1="0" y1="144" x2="1925" y2="144" stroke="#000" stroke-width="1.6"/>
<line x1="0" y1="289" x2="1925" y2="289" stroke="#000" stroke-width="1.6"/>
<polyline points="30.5,191.3 92.5,66.2 154.6,425.7 216.6,50.6 278.7,35.0 340.7,81.9 402.7,128.8 464.8,19.4 526.8,238.2 588.9,191.3 650.9,66.2 712.9,300.7 775.0,50.6 837.0,35.0 899.1,81.9 961.1,3.7 1023.1,144.4 1085.2,113.1 1147.2,191.3 1209.3,191.3 1271.3,300.7 1333.3,50.6 1395.4,35.0 1457.4,81.9 1519.5,3.7 1581.5,19.4 1643.5,113.1 1705.6,191.3 1767.6,66.2 1829.7,300.7 1891.7,50.6" fill="none" stroke="#002060" stroke-width="7.6" stroke-linejoin="round" stroke-linecap="round"/>
<path d="M30.5 183.7L38.1 191.3L30.5 198.9L22.9 191.3Z" fill="#D20000"/>
<path d="M92.5 58.6L100.1 66.2L92.5 73.8L84.9 66.2Z" fill="#D20000"/>
<path d="M154.6 418.1L162.2 425.7L154.6 433.3L147.0 425.7Z" fill="#D20000"/>
<path d="M216.6 43.0L224.2 50.6L216.6 58.2L209.0 50.6Z" fill="#D20000"/>
<path d="M278.7 27.4L286.3 35.0L278.7 42.6L271.1 35.0Z" fill="#D20000"/>
<path d="M340.7 74.3L348.3 81.9L340.7 89.5L333.1 81.9Z" fill="#D20000"/>
<path d="M402.7 121.2L410.3 128.8L402.7 136.4L395.1 128.8Z" fill="#D20000"/>
<path d="M464.8 11.8L472.4 19.4L464.8 27.0L457.2 19.4Z" fill="#D20000"/>
<path d="M526.8 230.6L534.4 238.2L526.8 245.8L519.2 238.2Z" fill="#D20000"/>
<path d="M588.9 183.7L596.5 191.3L588.9 198.9L581.3 191.3Z" fill="#D20000"/>
<path d="M650.9 58.6L658.5 66.2L650.9 73.8L643.3 66.2Z" fill="#D20000"/>
<path d="M712.9 293.1L720.5 300.7L712.9 308.3L705.3 300.7Z" fill="#D20000"/>
<path d="M775.0 43.0L782.6 50.6L775.0 58.2L767.4 50.6Z" fill="#D20000"/>
<path d="M837.0 27.4L844.6 35.0L837.0 42.6L829.4 35.0Z" fill="#D20000"/>
<path d="M899.1 74.3L906.7 81.9L899.1 89.5L891.5 81.9Z" fill="#D20000"/>
<path d="M961.1 -3.9L968.7 3.7L961.1 11.3L953.5 3.7Z" fill="#D20000"/>
<path d="M1023.1 136.8L1030.7 144.4L1023.1 152.0L1015.5 144.4Z" fill="#D20000"/>
<path d="M1085.2 105.5L1092.8 113.1L1085.2 120.7L1077.6 113.1Z" fill="#D20000"/>
<path d="M1147.2 183.7L1154.8 191.3L1147.2 198.9L1139.6 191.3Z" fill="#D20000"/>
<path d="M1209.3 183.7L1216.9 191.3L1209.3 198.9L1201.7 191.3Z" fill="#D20000"/>
<path d="M1271.3 293.1L1278.9 300.7L1271.3 308.3L1263.7 300.7Z" fill="#D20000"/>
<path d="M1333.3 43.0L1340.9 50.6L1333.3 58.2L1325.7 50.6Z" fill="#D20000"/>
<path d="M1395.4 27.4L1403.0 35.0L1395.4 42.6L1387.8 35.0Z" fill="#D20000"/>
<path d="M1457.4 74.3L1465.0 81.9L1457.4 89.5L1449.8 81.9Z" fill="#D20000"/>
<path d="M1519.5 -3.9L1527.1 3.7L1519.5 11.3L1511.9 3.7Z" fill="#D20000"/>
<path d="M1581.5 11.8L1589.1 19.4L1581.5 27.0L1573.9 19.4Z" fill="#D20000"/>
<path d="M1643.5 105.5L1651.1 113.1L1643.5 120.7L1635.9 113.1Z" fill="#D20000"/>
<path d="M1705.6 183.7L1713.2 191.3L1705.6 198.9L1698.0 191.3Z" fill="#D20000"/>
<path d="M1767.6 58.6L1775.2 66.2L1767.6 73.8L1760.0 66.2Z" fill="#D20000"/>
<path d="M1829.7 293.1L1837.3 300.7L1829.7 308.3L1822.1 300.7Z" fill="#D20000"/>
<path d="M1891.7 43.0L1899.3 50.6L1891.7 58.2L1884.1 50.6Z" fill="#D20000"/>
</svg>
</div></body></html>
